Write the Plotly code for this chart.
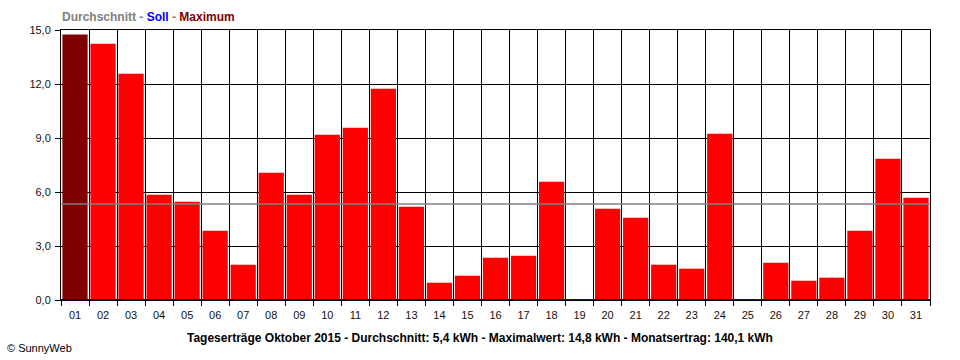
import plotly.graph_objects as go

days = [f"{d:02d}" for d in range(1, 32)]
yields = [14.75, 14.24, 12.57, 5.85, 5.46, 3.85, 1.96, 7.07, 5.85, 9.18,
          9.57, 11.74, 5.18, 0.96, 1.35, 2.35, 2.46, 6.57, 0.0, 5.07,
          4.57, 1.96, 1.74, 9.24, 0.0, 2.07, 1.07, 1.24, 3.85, 7.85, 5.68]
average_line = 5.33
target_line = 0.0
y_ticks = [0, 3, 6, 9, 12, 15]
y_ticklabels = ["0,0", "3,0", "6,0", "9,0", "12,0", "15,0"]

max_idx = yields.index(max(yields))
colors = ["#800000" if i == max_idx else "#ff0000" for i in range(len(yields))]

fig = go.Figure()
fig.add_trace(go.Bar(x=days, y=yields, marker=dict(color=colors, line=dict(width=0)),
                     hoverinfo="x+y"))

fig.add_shape(type="line", xref="paper", x0=0, x1=1, yref="y", y0=average_line, y1=average_line,
              line=dict(color="#808080", width=1.5), layer="above")
fig.add_shape(type="line", xref="paper", x0=0, x1=1, yref="y", y0=target_line, y1=target_line,
              line=dict(color="#0000cc", width=2), layer="above")

font_main = "Liberation Sans"
fig.update_layout(
    width=960, height=360,
    margin=dict(l=61, r=30, t=30, b=60),
    paper_bgcolor="white", plot_bgcolor="white",
    bargap=0.1,
    showlegend=False,
    font=dict(family=font_main, size=11, color="black"),
    xaxis=dict(type="category", tickson="boundaries", showgrid=True, gridcolor="black", gridwidth=1,
               ticks="outside", ticklen=5, tickcolor="black", showline=True, linecolor="black",
               linewidth=1, mirror=True, tickfont=dict(size=11, color="#111"), zeroline=False,
               ticklabelstandoff=5),
    yaxis=dict(range=[0, 15], tickvals=y_ticks, ticktext=y_ticklabels, showgrid=True,
               gridcolor="black", gridwidth=1, ticks="outside", ticklen=5, tickcolor="black",
               showline=True, linecolor="black", linewidth=1, mirror=True, zeroline=False,
               tickfont=dict(size=11, color="#111"), ticklabelstandoff=2),
)

fig.add_annotation(
    xref="paper", yref="paper", x=-0.001, y=1.048, xanchor="left", yanchor="middle",
    showarrow=False,
    text=("<b><span style='color:#808080'>Durchschnitt - </span>"
          "<span style='color:#0000ff'>Soll</span>"
          "<span style='color:#808080'> - </span>"
          "<span style='color:#800000'>Maximum</span></b>"),
    font=dict(family=font_main, size=12),
)
fig.add_annotation(
    xref="paper", yref="paper", x=0.482, y=-0.141, xanchor="center", yanchor="middle",
    showarrow=False,
    text="<b>Tageserträge Oktober 2015 - Durchschnitt: 5,4 kWh - Maximalwert: 14,8 kWh - Monatsertrag: 140,1 kWh</b>",
    font=dict(family=font_main, size=12, color="black"),
)
fig.add_annotation(
    xref="paper", yref="paper", x=-0.064, y=-0.178, xanchor="left", yanchor="middle",
    showarrow=False, text="© SunnyWeb",
    font=dict(family=font_main, size=11, color="black"),
)

fig.write_html("out.html", config={"displayModeBar": False},
               post_script="document.body.style.margin='0';document.body.style.overflow='hidden';")
